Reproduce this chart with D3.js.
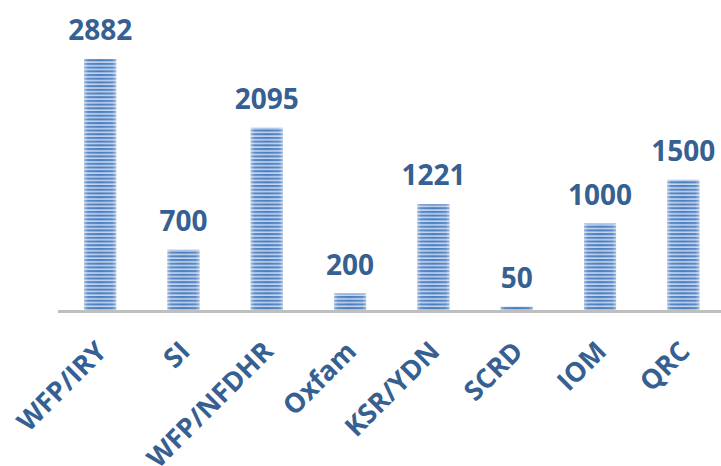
<!DOCTYPE html>
<html><head><meta charset="utf-8">
<script src="https://cdn.jsdelivr.net/npm/d3@7"></script>
<style>body{margin:0;background:#fff}svg{display:block}</style>
</head><body><svg id="c" width="721" height="466"></svg>
<script>
const categories = ["WFP/IRY","SI","WFP/NFDHR","Oxfam","KSR/YDN","SCRD","IOM","QRC"];
const values = [2882,700,2095,200,1221,50,1000,1500];

const svg = d3.select("#c");
const W = 721, H = 466;
const baseY = 311;
const x = d3.scaleBand().domain(categories).range([58.5, 725]).paddingInner(0.615).paddingOuter(0.3075);
const y = d3.scaleLinear().domain([0, 3000]).range([baseY, baseY - 3000 * 0.08744]);

const defs = svg.append("defs");
const pat = defs.append("pattern").attr("id","stripes").attr("patternUnits","userSpaceOnUse")
  .attr("width",8).attr("height",3.7);
pat.append("rect").attr("width",8).attr("height",3.7).attr("fill","#c2d4ee");
pat.append("rect").attr("y",0).attr("width",8).attr("height",2.1).attr("fill","#4a7dbf");
const g = defs.append("linearGradient").attr("id","edge").attr("x1","0").attr("x2","1");
[[0,0.45],[0.12,0.1],[0.5,0],[0.88,0.1],[1,0.45]].forEach(([o,a])=>
  g.append("stop").attr("offset",o).attr("stop-color","#fff").attr("stop-opacity",a));

// axis line
svg.append("line").attr("x1",58).attr("x2",W).attr("y1",baseY+0.5).attr("y2",baseY+0.5)
  .attr("stroke","#bfbfbf").attr("stroke-width",3);

const bars = svg.append("g").selectAll("g").data(categories).join("g");
bars.append("rect").attr("x",d=>x(d)).attr("width",x.bandwidth())
  .attr("y",(d,i)=>y(values[i])).attr("height",(d,i)=>baseY - 1 - y(values[i]))
  .attr("fill","url(#stripes)");
bars.append("rect").attr("x",d=>x(d)).attr("width",x.bandwidth())
  .attr("y",(d,i)=>y(values[i])).attr("height",(d,i)=>baseY - 1 - y(values[i]))
  .attr("fill","url(#edge)");

const color = "#366092";
svg.append("g").selectAll("text").data(categories).join("text")
  .attr("x",d=>x(d)+x.bandwidth()/2).attr("y",(d,i)=>y(values[i]) - 19)
  .attr("text-anchor","middle").attr("fill",color)
  .attr("font-family","Open Sans").attr("font-weight","bold").attr("font-size",28)
  .text((d,i)=>values[i]);

svg.append("g").selectAll("text").data(categories).join("text")
  .attr("transform",d=>`translate(${x(d)+x.bandwidth()/2+8},${baseY+42}) rotate(-45)`)
  .attr("text-anchor","end").attr("fill",color)
  .attr("font-family","Open Sans").attr("font-weight","bold").attr("font-size",27)
  .text(d=>d);
</script></body></html>
